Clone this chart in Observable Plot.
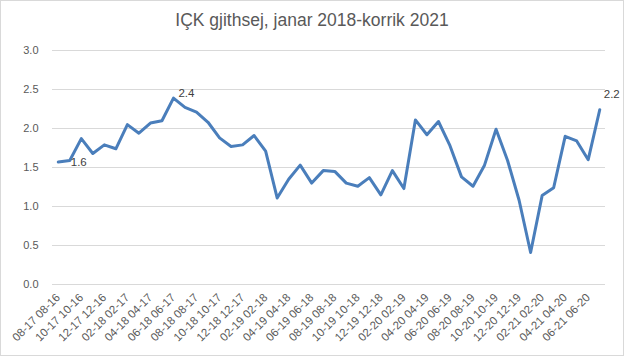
<!DOCTYPE html>
<html>
<head>
<meta charset="utf-8">
<script src="https://cdn.jsdelivr.net/npm/d3@7"></script>
<script src="https://cdn.jsdelivr.net/npm/@observablehq/plot@0.6"></script>
<style>
  html, body { margin: 0; padding: 0; background: #fff; }
  #chart { width: 624px; height: 356px; box-sizing: border-box; border: 1px solid #d9d9d9; background: #fff; overflow: hidden; }
  #title { height: 35px; line-height: 38px; text-align: center; font-family: "Liberation Sans", Arial, sans-serif; font-size: 17.5px; color: #595959; }
  svg { display: block; }
</style>
</head>
<body>
<div id="chart">
  <div id="title">IÇK gjithsej, janar 2018-korrik 2021</div>
</div>
<script>
const categories = [
  "08-17 08-16","09-17 09-16","10-17 10-16","11-17 11-16","12-17 12-16","01-18 01-17",
  "02-18 02-17","03-18 03-17","04-18 04-17","05-18 05-17","06-18 06-17","07-18 07-17",
  "08-18 08-17","09-18 09-17","10-18 10-17","11-18 11-17","12-18 12-17","01-19 01-18",
  "02-19 02-18","03-19 03-18","04-19 04-18","05-19 05-18","06-19 06-18","07-19 07-18",
  "08-19 08-18","09-19 09-18","10-19 10-18","11-19 11-18","12-19 12-18","01-20 01-19",
  "02-20 02-19","03-20 03-19","04-20 04-19","05-20 05-19","06-20 06-19","07-20 07-19",
  "08-20 08-19","09-20 09-19","10-20 10-19","11-20 11-19","12-20 12-19","01-21 01-20",
  "02-21 02-20","03-21 03-20","04-21 04-20","05-21 05-20","06-21 06-20","07-21 07-20"
];
const values = [
  1.57, 1.59, 1.87, 1.68, 1.79, 1.74, 2.05, 1.94, 2.07, 2.10, 2.39, 2.27,
  2.21, 2.08, 1.88, 1.77, 1.79, 1.91, 1.71, 1.11, 1.35, 1.53, 1.30, 1.46,
  1.45, 1.30, 1.26, 1.37, 1.15, 1.46, 1.23, 2.11, 1.92, 2.09, 1.78, 1.38,
  1.26, 1.53, 1.99, 1.59, 1.08, 0.41, 1.14, 1.24, 1.90, 1.84, 1.60, 2.24
];
const tickLabels = categories.filter((d, i) => i % 2 === 0);
const yTicks = [0, 0.5, 1.0, 1.5, 2.0, 2.5, 3.0];
const labelledCategories = ["09-17 09-16", "06-18 06-17", "07-21 07-20"];

const data = categories.map((c, i) => ({ cat: c, value: values[i] }));
const labelled = data.filter(d => labelledCategories.includes(d.cat));
const labelOffsets = { "09-17 09-16": [1, 2, "start"], "06-18 06-17": [5, -5, "start"], "07-21 07-20": [4, -15, "start"] };

const font = "'Liberation Sans', Arial, sans-serif";
const plot = Plot.plot({
  width: 622,
  height: 319,
  marginLeft: 51,
  marginRight: 18,
  marginTop: 14,
  marginBottom: 71,
  style: { fontFamily: font, fontSize: "10px", color: "#595959", background: "#fff", overflow: "visible" },
  x: { type: "point", domain: categories, padding: 0.5, round: false, label: null },
  y: { domain: [0, 3], label: null },
  marks: [
    Plot.gridY(yTicks, { stroke: "#d9d9d9", strokeOpacity: 1, strokeWidth: 1 }),
    Plot.axisY(yTicks, { tickSize: 0, tickPadding: 14, tickFormat: d => d.toFixed(1), fill: "#595959", fontSize: 11 }),
    Plot.axisX(tickLabels, { tickSize: 0, tickPadding: 11, tickRotate: -45, fill: "#595959", fontSize: 11.5 }),
    Plot.line(data, { x: "cat", y: "value", stroke: "#4a7ebb", strokeWidth: 3, strokeLinejoin: "round", strokeLinecap: "round" }),
    ...labelled.map(d => Plot.text([d], {
      x: "cat", y: "value", text: v => v.value.toFixed(1),
      dx: labelOffsets[d.cat][0], dy: labelOffsets[d.cat][1], textAnchor: labelOffsets[d.cat][2],
      fill: "#404040", fontSize: 11.5
    }))
  ]
});
document.getElementById("chart").appendChild(plot);
</script>
</body>
</html>
